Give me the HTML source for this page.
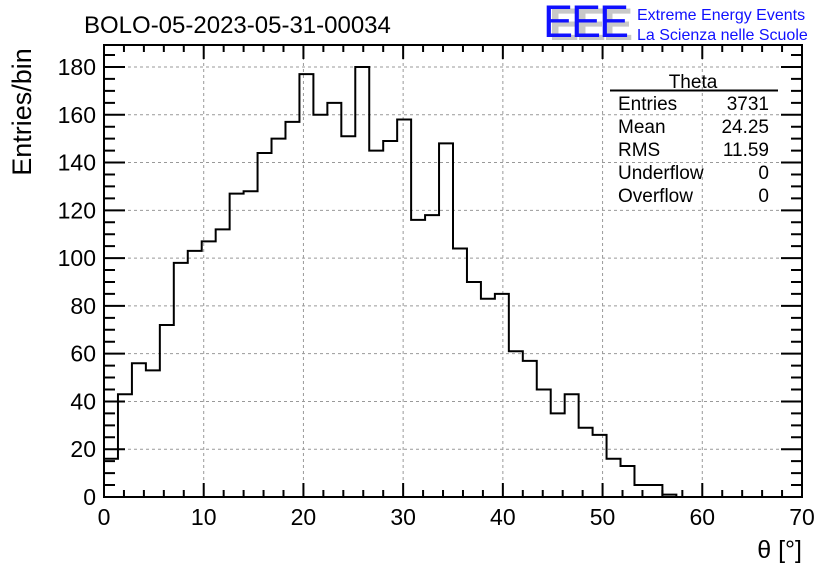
<!DOCTYPE html>
<html><head><meta charset="utf-8"><style>
html,body{margin:0;padding:0;background:#fff;}
svg{display:block;font-family:"Liberation Sans",sans-serif;}
</style></head><body>
<svg id="chart" width="836" height="572" viewBox="0 0 836 572">
<rect width="836" height="572" fill="#fff"/>
<text x="84" y="33" font-size="24" fill="#000">BOLO-05-2023-05-31-00034</text>
<g>
<text x="549" y="40" font-size="45" fill="#c8c8c8" font-weight="bold" letter-spacing="-3">EEE</text>
<text x="543" y="37" font-size="45" fill="#1010ff" letter-spacing="-2">EEE</text>
<text x="637" y="20" font-size="16" fill="#1010ff">Extreme Energy Events</text>
<text x="637" y="40" font-size="16" fill="#1010ff">La Scienza nelle Scuole</text>
</g>
<g id="grid"></g>
<g id="axes"></g>
<path id="hist" fill="none" stroke="#000" stroke-width="2"/>
<g font-size="19" fill="#000">
<text x="693" y="88" text-anchor="middle">Theta</text>
<line x1="610" y1="90.5" x2="778" y2="90.5" stroke="#000" stroke-width="2"/>
<text x="618" y="110">Entries</text>
<text x="769" y="110" text-anchor="end">3731</text>
<text x="618" y="133">Mean</text>
<text x="769" y="133" text-anchor="end">24.25</text>
<text x="618" y="156">RMS</text>
<text x="769" y="156" text-anchor="end">11.59</text>
<text x="618" y="179">Underflow</text>
<text x="769" y="179" text-anchor="end">0</text>
<text x="618" y="202">Overflow</text>
<text x="769" y="202" text-anchor="end">0</text>
</g>
<text x="31" y="112" font-size="27" transform="rotate(-90 31 112)" text-anchor="middle">Entries/bin</text>
<text x="802" y="558" font-size="25" text-anchor="end">θ [°]</text>
</svg>
<script>
const binEdgesStart = 0;
const binWidth = 1.4;
const counts = [16,43,56,53,72,98,103,107,112,127,128,144,150,157,177,160,165,151,180,145,149,158,116,118,148,104,90,83,85,61,57,45,35,43,29,26,16,13,5,5,1,0,0,0,0,0,0,0,0,0];
const xTicks = [0,10,20,30,40,50,60,70];
const yTicks = [0,20,40,60,80,100,120,140,160,180];
const X0=104,X1=802,Y0=497,Y1=45,XMAX=70,YMAX=189.2;
const sx=v=>X0+(v/XMAX)*(X1-X0);
const sy=v=>Y0-(v/YMAX)*(Y0-Y1);
const NS="http://www.w3.org/2000/svg";
const grid=document.getElementById('grid'), axes=document.getElementById('axes');
function mk(tag,attrs,parent){const e=document.createElementNS(NS,tag);for(const k in attrs)e.setAttribute(k,attrs[k]);parent.appendChild(e);return e;}
xTicks.forEach(t=>{
  if(t>0&&t<XMAX){const g=mk('line',{x1:sx(t),x2:sx(t),y1:Y1,y2:Y0,stroke:'#999','stroke-dasharray':'3,3','stroke-width':1},grid);
  
  }
  const l=mk('text',{x:sx(t),y:Y0+28,'font-size':23,'text-anchor':'middle'},axes);l.textContent=t;
  
  
});
yTicks.forEach(t=>{
  if(t>0){const g=mk('line',{x1:X0,x2:X1,y1:sy(t),y2:sy(t),stroke:'#999','stroke-dasharray':'3,3','stroke-width':1},grid);
  
  }
  const l=mk('text',{x:X0-8,y:sy(t)+8,'font-size':23,'text-anchor':'end'},axes);l.textContent=t;
  
  
});
let tk='';
for(let v=0;v<=XMAX+1e-9;v+=2){const maj=Math.abs(v%10)<1e-9;const L=maj?14:7;const x=sx(v);
  tk+=`M${x},${Y0}v${-L}M${x},${Y1}v${L}`;}
for(let v=0;v<=YMAX;v+=5){const maj=v%20===0;const L=maj?21:11;const y=sy(v);
  tk+=`M${X0},${y}h${L}M${X1},${y}h${-L}`;}
const tp=mk('path',{d:tk,stroke:'#000','stroke-width':2,fill:'none'},axes);


const fr=mk('rect',{x:X0,y:Y1,width:X1-X0,height:Y0-Y1,fill:'none',stroke:'#000','stroke-width':2},axes);


let d=`M${sx(binEdgesStart)},${sy(0)}`;
counts.forEach((c,i)=>{const a=binEdgesStart+i*binWidth,b=a+binWidth;d+=`L${sx(a)},${sy(c)}L${sx(b)},${sy(c)}`;});
document.getElementById('hist').setAttribute('d',d);
</script>
</body></html>
